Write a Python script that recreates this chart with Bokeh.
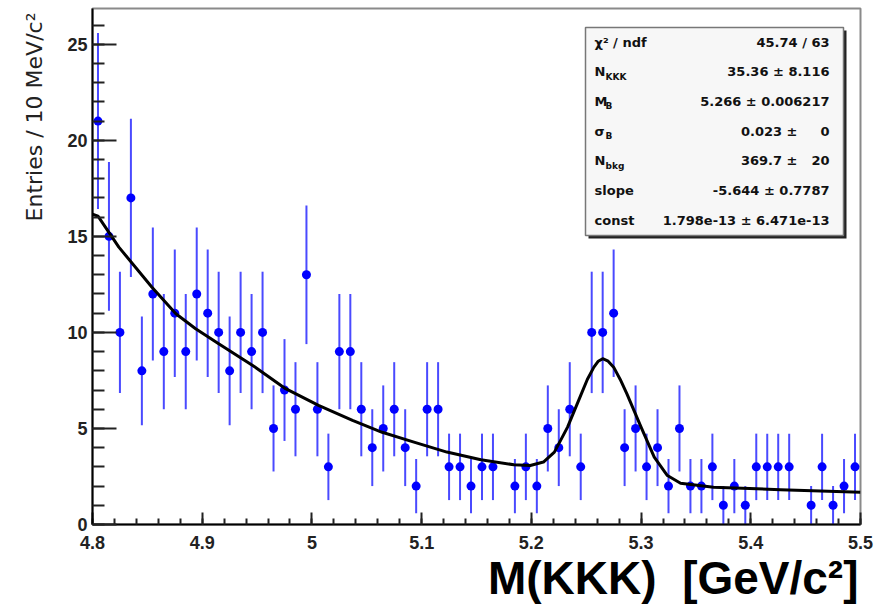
import numpy as np
from bokeh.plotting import figure
from bokeh.models import Label, Title, SingleIntervalTicker, CustomJSTickFormatter, ColumnDataSource
from bokeh.embed import file_html
from bokeh.resources import INLINE

# ---------------- data ----------------
bin_low = 4.80
bin_width = 0.01
counts = [21, 15, 10, 17, 8, 12, 9, 11, 9, 12,
          11, 10, 8, 10, 9, 10, 5, 7, 6, 13,
          6, 3, 9, 9, 6, 4, 5, 6, 4, 2,
          6, 6, 3, 3, 2, 3, 3, 0, 2, 3,
          2, 5, 4, 6, 3, 10, 10, 11, 4, 5,
          3, 4, 2, 5, 2, 2, 3, 1, 2, 1,
          3, 3, 3, 3, 0, 1, 3, 1, 2, 3]
errors = [4.58, 3.87, 3.16, 4.12, 2.83, 3.46, 3.00, 3.32, 3.00, 3.46,
          3.32, 3.16, 2.83, 3.16, 3.00, 3.16, 2.24, 2.65, 2.45, 3.61,
          2.45, 1.73, 3.00, 3.00, 2.45, 2.00, 2.24, 2.45, 2.00, 1.41,
          2.45, 2.45, 1.73, 1.73, 1.41, 1.73, 1.73, 0.00, 1.41, 1.73,
          1.41, 2.24, 2.00, 2.45, 1.73, 3.16, 3.16, 3.32, 2.00, 2.24,
          1.73, 2.00, 1.41, 2.24, 1.41, 1.41, 1.73, 1.00, 1.41, 1.00,
          1.73, 1.73, 1.73, 1.73, 0.00, 1.00, 1.73, 1.00, 1.41, 1.73]

fit_x = [4.800, 4.805, 4.824, 4.854, 4.876, 4.894, 4.915, 4.946, 4.976, 5.006,
         5.037, 5.064, 5.093, 5.123, 5.154, 5.184, 5.199, 5.211, 5.221, 5.233,
         5.245, 5.251, 5.257, 5.261, 5.265, 5.270, 5.275, 5.281, 5.287, 5.300,
         5.312, 5.324, 5.336, 5.366, 5.427, 5.500]
fit_y = [16.15, 16.05, 14.44, 12.36, 10.97, 10.19, 9.41, 8.28, 7.07, 6.20,
         5.42, 4.80, 4.29, 3.77, 3.37, 3.11, 3.07, 3.25, 3.77, 5.07,
         6.72, 7.55, 8.19, 8.50, 8.63, 8.50, 8.19, 7.55, 6.81, 5.07,
         3.51, 2.55, 2.15, 1.94, 1.81, 1.68]

stat_names = ["χ² / ndf", "N", "M", "σ", "N", "slope", "const"]
stat_subs = ["", "KKK", "B", "B", "bkg", "", ""]
stat_values = ["45.74 / 63", "35.36 ± 8.116", "5.266 ± 0.006217", "0.023 ±",
               "369.7 ±", "-5.644 ± 0.7787", "1.798e-13 ± 6.471e-13"]
stat_errs_sep = ["", "", "", "0", "20", "", ""]

x_title = "M(KKK)\u00a0\u00a0[GeV/c²]"
y_title = "Entries / 10 MeV/c²"

# ---------------- geometry helpers (page pixels -> data) ----------------
XMIN, XMAX, YMIN, YMAX = 4.8, 5.5, 0.0, 26.86
FL, FR, FT, FB = 92.0, 860.0, 8.0, 524.0


def X(px):
    return XMIN + (px - FL) * (XMAX - XMIN) / (FR - FL)


def Y(py):
    return YMIN + (FB - py) * (YMAX - YMIN) / (FB - FT)


p = figure(frame_width=int(FR - FL), frame_height=int(FB - FT),
           x_range=(XMIN, XMAX), y_range=(YMIN, YMAX),
           output_backend="svg", toolbar_location=None,
           min_border_left=int(FL), min_border_right=15, min_border_top=int(FT),
           min_border_bottom=int(611 - FB))
p.background_fill_color = "white"
p.border_fill_color = "white"
p.outline_line_color = "#8a8a8a"
p.outline_line_width = 2
p.xgrid.visible = False
p.ygrid.visible = False

# axes
p.xaxis.ticker = SingleIntervalTicker(interval=0.1, num_minor_ticks=5)
p.yaxis.ticker = SingleIntervalTicker(interval=5, num_minor_ticks=5)
p.xaxis.formatter = CustomJSTickFormatter(code="return String(Math.round(tick*10)/10)")
for ax in (p.xaxis, p.yaxis):
    ax.axis_line_color = "black"
    ax.axis_line_width = 2
    ax.major_tick_out = 0
    ax.minor_tick_out = 0
    ax.major_tick_line_color = "#222222"
    ax.minor_tick_line_color = "#222222"
    ax.major_tick_line_width = 2
    ax.minor_tick_line_width = 2
    ax.major_label_text_font = "Liberation Sans"
    ax.major_label_text_font_size = "18px"
    ax.major_label_text_font_style = "bold"
    ax.major_label_text_color = "#222222"
p.yaxis.major_tick_in = 24
p.yaxis.minor_tick_in = 12
p.xaxis.major_tick_in = 12
p.xaxis.minor_tick_in = 6
p.yaxis.major_label_standoff = 5
p.xaxis.major_label_standoff = 11

# data points
centers = [round(bin_low + bin_width * (i + 0.5), 4) for i in range(len(counts))]
sel = [i for i, c in enumerate(counts) if c > 0]
src = ColumnDataSource(dict(
    x=[centers[i] for i in sel],
    y=[counts[i] for i in sel],
    lo=[counts[i] - errors[i] for i in sel],
    hi=[counts[i] + errors[i] for i in sel],
))
p.segment(x0="x", y0="lo", x1="x", y1="hi", source=src, line_color="#4a4aff", line_width=2)
p.scatter(x="x", y="y", source=src, size=9, color="#0000ff", line_width=0)

# fit curve
p.line(fit_x, fit_y, line_color="black", line_width=3, line_join="round")

# stats box
p.quad(left=X(588), right=X(846), bottom=Y(238), top=Y(30), fill_color="#222222", line_color=None)
p.quad(left=X(585), right=X(843), bottom=Y(235), top=Y(27), fill_color="#f7f7f7",
       line_color="#777777", line_width=1.5)

STAT_FONT = "DejaVu Sans"
row0, dy = 41.5, 29.7
for k in range(len(stat_names)):
    ypx = row0 + k * dy
    p.add_layout(Label(x=X(594), y=Y(ypx), text=stat_names[k], text_font=STAT_FONT,
                       text_font_size="13px", text_font_style="bold", text_color="#111111",
                       text_baseline="middle", text_align="left"))
    if stat_subs[k]:
        p.add_layout(Label(x=X(605), y=Y(ypx + 5), text=stat_subs[k], text_font=STAT_FONT,
                           text_font_size="9px", text_font_style="bold", text_color="#111111",
                           text_baseline="middle", text_align="left"))
    if stat_errs_sep[k]:
        p.add_layout(Label(x=X(797), y=Y(ypx), text=stat_values[k], text_font=STAT_FONT,
                           text_font_size="13px", text_font_style="bold", text_color="#111111",
                           text_baseline="middle", text_align="right"))
        p.add_layout(Label(x=X(829), y=Y(ypx), text=stat_errs_sep[k], text_font=STAT_FONT,
                           text_font_size="13px", text_font_style="bold", text_color="#111111",
                           text_baseline="middle", text_align="right"))
    else:
        p.add_layout(Label(x=X(829), y=Y(ypx), text=stat_values[k], text_font=STAT_FONT,
                           text_font_size="13px", text_font_style="bold", text_color="#111111",
                           text_baseline="middle", text_align="right"))

# axis titles
p.add_layout(Title(text=x_title, align="right", text_font="Liberation Sans",
                   text_font_size="46px", text_font_style="bold", text_color="black",
                   standoff=-3, offset=2), "below")
p.add_layout(Title(text=y_title, align="right", text_font="DejaVu Sans",
                   text_font_size="22px", text_font_style="normal", text_color="#222222",
                   standoff=35, offset=4), "left")

open("out.html", "w").write(file_html(p, INLINE))
